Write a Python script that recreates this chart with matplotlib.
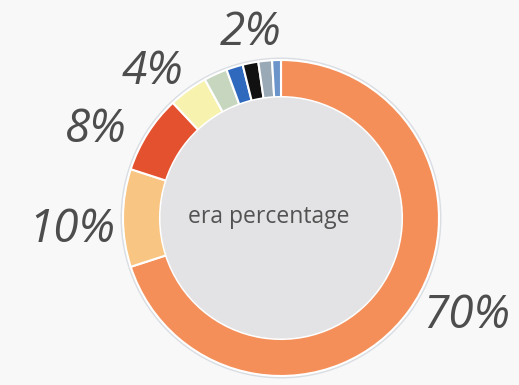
import matplotlib.pyplot as plt
from matplotlib.patches import Circle

# era shares, clockwise from 12 o'clock
shares = [70, 10, 8, 4, 2.4, 1.7, 1.6, 1.4, 0.9]
colors = ["#F58F5A", "#F9C583", "#E4512F", "#F7F2AE", "#C7D6BF",
          "#2F69BE", "#111111", "#99A9B6", "#6B95CA"]
label_text = ["70%", "10%", "8%", "4%", "2%"]
center_text = "era percentage"

# label placement (pixels from top-left)
label_pos = [(467, 316), (72, 230), (96, 130), (153, 72), (251, 33)]

W, H = 519, 385
cx, cy = 281, 218
r_out, r_in = 158, 121

fig = plt.figure(figsize=(W / 100, H / 100), dpi=100)
fig.patch.set_facecolor("#F8F8F8")
ax = fig.add_axes([0, 0, 1, 1])

# faint rim around the ring
ax.add_patch(Circle((cx, H - cy), r_out + 2.5, facecolor="#DADEE3", edgecolor="none", zorder=0))

ax.pie(shares, colors=colors, startangle=90, counterclock=False,
       center=(cx, H - cy), radius=r_out, frame=True,
       wedgeprops=dict(width=r_out - r_in, edgecolor="white", linewidth=1.5))
ax.set_xlim(0, W)
ax.set_ylim(0, H)
ax.set_aspect("equal")
ax.axis("off")

# grey centre disc
ax.add_patch(Circle((cx, H - cy), r_in - 0.5, facecolor="#E3E3E5", edgecolor="none", zorder=3))
ax.text(269, H - 217, center_text, ha="center", va="center", fontsize=16.5,
        color="#525252", family="Open Sans", zorder=4)

for txt, (x, y) in zip(label_text, label_pos):
    ax.text(x, H - y, txt, ha="center", va="center", fontsize=33,
            style="italic", color="#4D4D4D", family="Open Sans")

fig.savefig("out.png", dpi=100, facecolor=fig.get_facecolor())
